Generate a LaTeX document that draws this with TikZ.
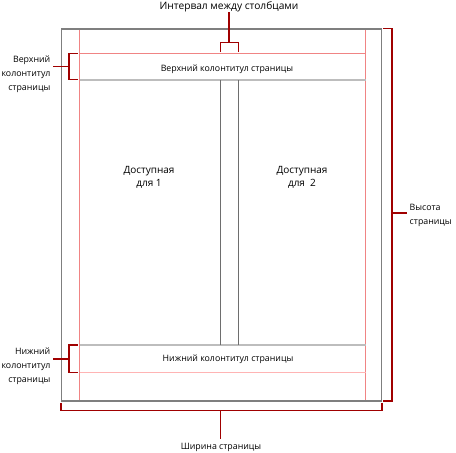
\documentclass[tikz,border=0pt]{standalone}
\usepackage{fontspec}
\setmainfont{Open Sans}
\definecolor{pagegray}{HTML}{7F7F7F}
\definecolor{colgray}{HTML}{6E6E6E}
\definecolor{lightgray}{HTML}{BDBDBD}
\definecolor{pinkline}{HTML}{F08484}
\definecolor{palepink}{HTML}{FFB4B4}
\definecolor{bracketred}{HTML}{A00000}
\begin{document}
\begin{tikzpicture}[x=1pt,y=-1pt,
  pageline/.style={draw=pagegray,line width=1.6pt},
  marginline/.style={draw=pinkline,line width=0.9pt},
  paleline/.style={draw=palepink,line width=0.9pt},
  hfline/.style={draw=lightgray,line width=1.6pt},
  colline/.style={draw=colgray,line width=0.9pt},
  brk/.style={draw=bracketred,line width=1.8pt},
  lbl/.style={font=\fontsize{8.8}{14}\selectfont,inner sep=0pt},
  biglbl/.style={font=\fontsize{10.2}{14}\selectfont,inner sep=0pt},
  area/.style={font=\fontsize{10}{13}\selectfont,inner sep=0pt,align=center}]
\useasboundingbox (0,0) rectangle (456,453);
% page geometry
\coordinate (pTL) at (61.5,29);
\coordinate (pBR) at (381.5,401);
% margins
\draw[marginline] (79.5,29) -- (79.5,401);
\draw[marginline] (365.5,29) -- (365.5,401);
% header
\draw[marginline] (79.5,53.5) coordinate (hTL) -- (365.5,53.5) coordinate (hTR);
\draw[hfline] (79.5,80) coordinate (hBL) -- (365.5,80) coordinate (hBR);
% footer
\draw[hfline] (79.5,345) coordinate (fTL) -- (365.5,345) coordinate (fTR);
\draw[paleline] (79.5,372.5) coordinate (fBL) -- (365.5,372.5) coordinate (fBR);
% columns
\draw[colline] (220.5,80) coordinate (c1T) -- (220.5,345) coordinate (c1B);
\draw[colline] (238.5,80) coordinate (c2T) -- (238.5,345) coordinate (c2B);
% page border
\draw[pageline] (pTL) rectangle (pBR);
% texts inside
\node[lbl] (htext) at (227,69.5) {Верхний колонтитул страницы};
\node[lbl] (ftext) at (228,359.5) {Нижний колонтитул страницы};
\node[area] (col1) at (149,177) {Доступная\\ для 1};
\node[area] (col2) at (302,177) {Доступная\\ для\ \ 2};
% gap bracket
\node[biglbl] (gaptext) at (229,7) {Интервал между столбцами};
\coordinate (gapmid) at (229,42.5);
\draw[brk] (gaptext.south) -- (gapmid);
\draw[brk] (220.5,51.5) -- (220.5,42.5) -- (238.5,42.5) -- (238.5,51.5);
% header bracket
\node[lbl,align=right,anchor=east] (hlabel) at (50.5,74) {Верхний\\колонтитул\\страницы};
\draw[brk] (77.5,53.5) -- (69,53.5) -- (69,79.5) -- (77.5,79.5);
\coordinate (hbmid) at (69,66.5);
\draw[brk] (hbmid) -- (53,66.5);
% footer bracket
\node[lbl,align=right,anchor=east] (flabel) at (50.5,366) {Нижний\\колонтитул\\страницы};
\draw[brk] (77.5,345) -- (69,345) -- (69,372.5) -- (77.5,372.5);
\coordinate (fbmid) at (69,359);
\draw[brk] (fbmid) -- (53,359);
% width bracket
\node[lbl] (wtext) at (221,447.5) {Ширина страницы};
\draw[brk] (61,402.5) -- (61,410.5) -- (382,410.5) -- (382,402.5);
\coordinate (wmid) at (220.5,410.5);
\draw[brk] (wmid) -- (220.5,439);
% height bracket
\node[lbl,align=left,anchor=west] (vlabel) at (409.5,215.5) {Высота\\страницы};
\draw[brk] (383,28.5) -- (392,28.5) -- (392,401) -- (383,401);
\coordinate (vmid) at (392,213);
\draw[brk] (vmid) -- (406.5,213);
\end{tikzpicture}
\end{document}
